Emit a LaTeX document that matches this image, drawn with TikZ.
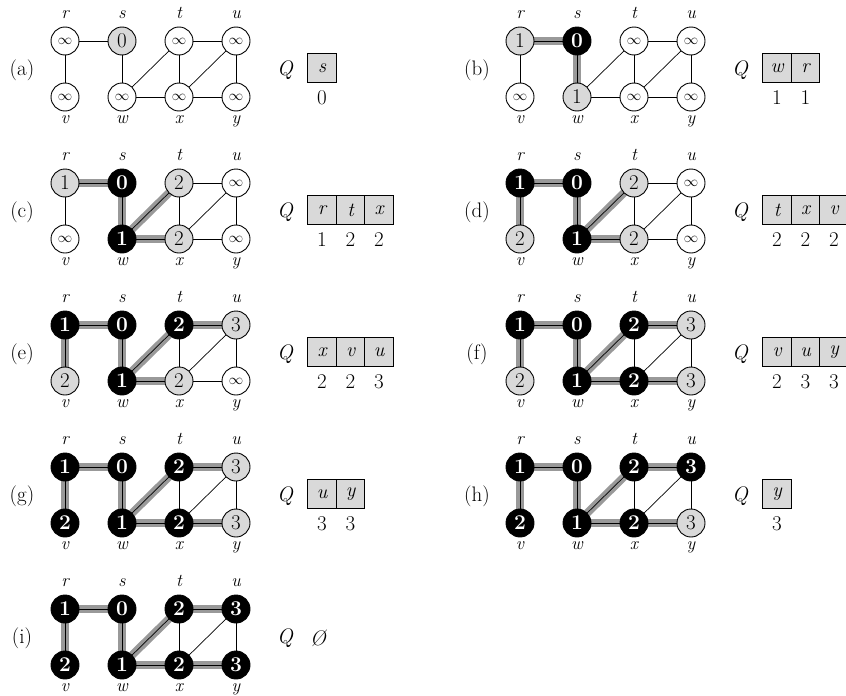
\documentclass[tikz,border=0pt]{standalone}
\usetikzlibrary{backgrounds}
\newcommand{\infsym}{{\fontsize{15}{15}\selectfont$\infty$}}

\begin{document}
\begin{tikzpicture}[x=1pt, y=-1pt, font=\fontsize{21}{24}\selectfont,
    vtx/.style={circle, draw, line width=0.9pt, minimum size=28pt, inner sep=0pt},
    wht/.style={vtx, fill=white},
    gry/.style={vtx, fill=black!15},
    blk/.style={vtx, fill=black, text=white, font=\fontsize{21}{24}\selectfont\bfseries},
    lbl/.style={font=\fontsize{18}{20}\selectfont\itshape, inner sep=0pt, anchor=base},
    gedge/.style={line width=0.7pt},
    tedge/.style={line width=8pt, black!40},
    qcell/.style={draw, line width=1.1pt, fill=black!15, minimum width=28.5pt,
                  minimum height=29pt, inner sep=0pt, outer sep=0pt,
                  font=\fontsize{20}{22}\selectfont\itshape},
    ptag/.style={inner sep=0pt}]

\useasboundingbox (0,0) rectangle (846,696);

% one panel per step of the search
\foreach \id/\px/\py/\ntree/\states in {
  a/65/41/0/{r/wht/\infsym, s/gry/0, t/wht/\infsym, u/wht/\infsym, v/wht/\infsym, w/wht/\infsym, x/wht/\infsym, y/wht/\infsym},
  b/520/41/2/{r/gry/1, s/blk/0, t/wht/\infsym, u/wht/\infsym, v/wht/\infsym, w/gry/1, x/wht/\infsym, y/wht/\infsym},
  c/65/183/4/{r/gry/1, s/blk/0, t/gry/2, u/wht/\infsym, v/wht/\infsym, w/blk/1, x/gry/2, y/wht/\infsym},
  d/520/183/5/{r/blk/1, s/blk/0, t/gry/2, u/wht/\infsym, v/gry/2, w/blk/1, x/gry/2, y/wht/\infsym},
  e/65/325/6/{r/blk/1, s/blk/0, t/blk/2, u/gry/3, v/gry/2, w/blk/1, x/gry/2, y/wht/\infsym},
  f/520/325/7/{r/blk/1, s/blk/0, t/blk/2, u/gry/3, v/gry/2, w/blk/1, x/blk/2, y/gry/3},
  g/65/467/7/{r/blk/1, s/blk/0, t/blk/2, u/gry/3, v/blk/2, w/blk/1, x/blk/2, y/gry/3},
  h/520/467/7/{r/blk/1, s/blk/0, t/blk/2, u/blk/3, v/blk/2, w/blk/1, x/blk/2, y/gry/3},
  i/65/609/7/{r/blk/1, s/blk/0, t/blk/2, u/blk/3, v/blk/2, w/blk/1, x/blk/2, y/blk/3}}
{
  \node[ptag] (\id-tag) at (\px-43, \py+29) {(\id)};
  \node[font=\fontsize{21}{24}\selectfont\itshape] (\id-Q) at (\px+220, \py+29) {Q};
  % vertices, top row r s t u, bottom row v w x y
  \foreach \n/\sty/\val [count=\k from 0] in \states {
    \pgfmathtruncatemacro\col{mod(\k,4)}
    \pgfmathtruncatemacro\row{\k/4}
    \node[\sty] (\id-\n) at (\px+57*\col, \py+56*\row) {\val};
    \ifnum\row=0
      \node[lbl] (\id-l\n) at (\px+57*\col, \py-23) {\n};
    \else
      \node[lbl] (\id-l\n) at (\px+57*\col, \py+82) {\n};
    \fi
  }
  % shaded edges are the tree found so far
  \begin{pgfonlayer}{background}
    \foreach \e/\f [count=\k] in {r/s, s/w, w/t, w/x, r/v, t/u, x/y} {
      \ifnum\k>\ntree\relax\else
        \draw[tedge] (\id-\e.center) -- (\id-\f.center);
      \fi
    }
    \foreach \e/\f in {r/s, r/v, s/w, w/t, w/x, t/x, t/u, x/u, x/y, u/y} {
      \draw[gedge] (\id-\e.center) -- (\id-\f.center);
    }
  \end{pgfonlayer}
}

% queue contents with distances below
\foreach \id/\px/\py/\qlist in {
  a/65/41/{s/0}, b/520/41/{w/1, r/1},
  c/65/183/{r/1, t/2, x/2}, d/520/183/{t/2, x/2, v/2},
  e/65/325/{x/2, v/2, u/3}, f/520/325/{v/2, u/3, y/3},
  g/65/467/{u/3, y/3}, h/520/467/{y/3}}
{
  \foreach \q/\d [count=\j from 0] in \qlist {
    \node[qcell] (\id-q\j) at (\px+257+28.5*\j, \py+27) {\q};
    \node (\id-d\j) at (\px+257+28.5*\j, \py+57) {\d};
  }
}
\node[font=\fontsize{21}{24}\selectfont\itshape] (i-empty) at (318, 638) {\O};

\end{tikzpicture}
\end{document}
